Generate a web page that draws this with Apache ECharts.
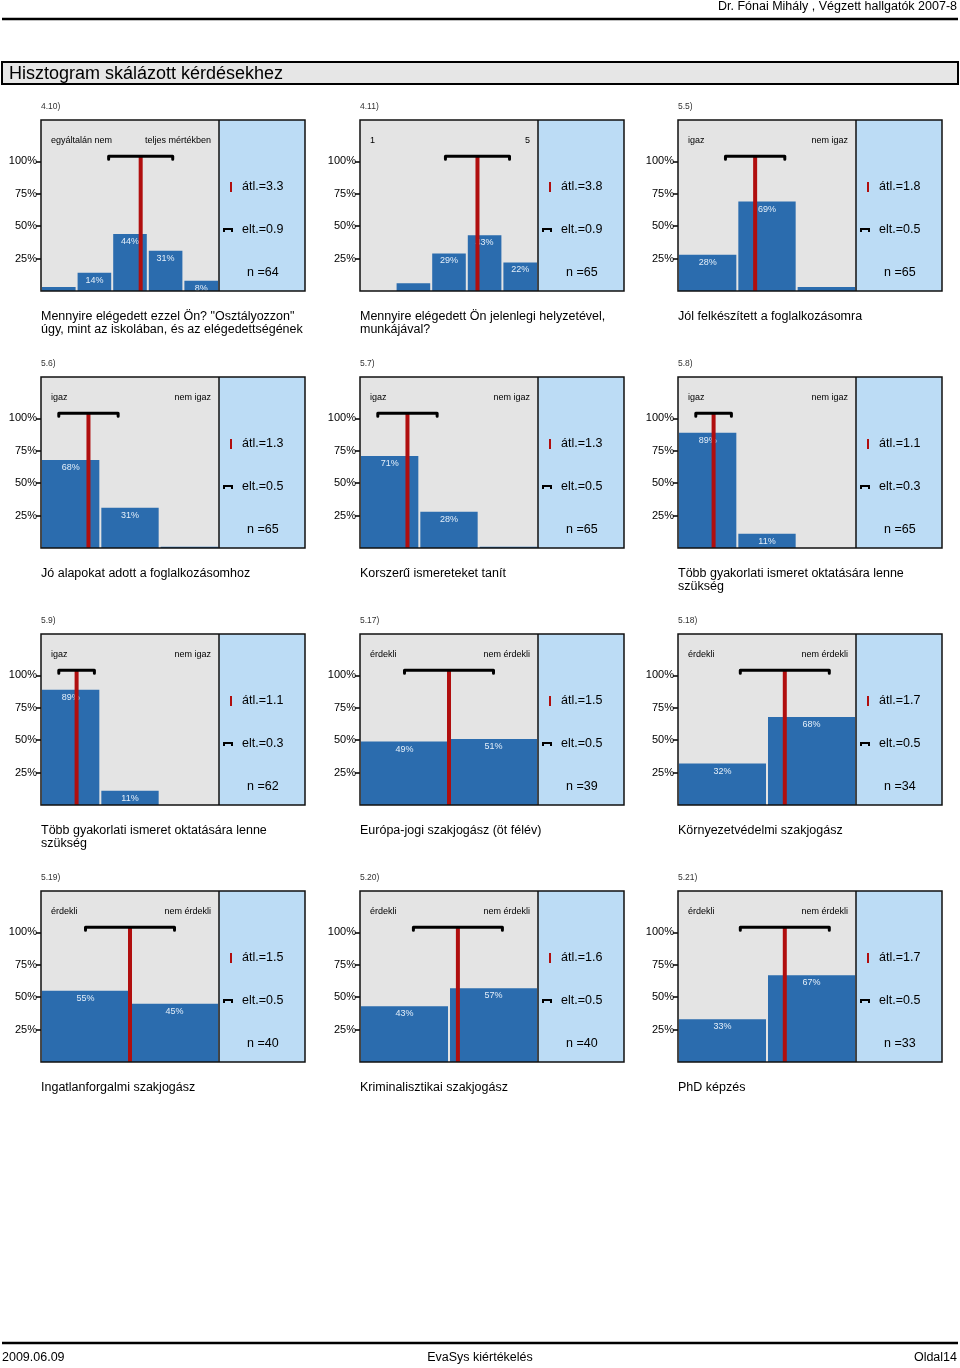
<!DOCTYPE html>
<html><head><meta charset="utf-8">
<script src="https://cdn.jsdelivr.net/npm/echarts@6/dist/echarts.min.js"></script>
<style>html,body{margin:0;padding:0;background:#fff}#c{width:960px;height:1368px}</style>
</head><body><div id="c"></div>
<script>
const headerText = 'Dr. Fónai Mihály , Végzett hallgatók 2007-8';
const sectionTitle = 'Hisztogram skálázott kérdésekhez';
const footerLeft = '2009.06.09';
const footerCenter = 'EvaSys kiértékelés';
const footerRight = 'Oldal14';
const questionIds = ['4.10)', '4.11)', '5.5)', '5.6)', '5.7)', '5.8)', '5.9)', '5.17)', '5.18)', '5.19)', '5.20)', '5.21)'];
const leftPoles = ['egyáltalán nem', '1', 'igaz', 'igaz', 'igaz', 'igaz', 'igaz', 'érdekli', 'érdekli', 'érdekli', 'érdekli', 'érdekli'];
const rightPoles = ['teljes mértékben', '5', 'nem igaz', 'nem igaz', 'nem igaz', 'nem igaz', 'nem igaz', 'nem érdekli', 'nem érdekli', 'nem érdekli', 'nem érdekli', 'nem érdekli'];
const questionTexts = [
  'Mennyire elégedett ezzel Ön? "Osztályozzon"\núgy, mint az iskolában, és az elégedettségének',
  'Mennyire elégedett Ön jelenlegi helyzetével,\nmunkájával?',
  'Jól felkészített a foglalkozásomra',
  'Jó alapokat adott a foglalkozásomhoz',
  'Korszerű ismereteket tanít',
  'Több gyakorlati ismeret oktatására lenne\nszükség',
  'Több gyakorlati ismeret oktatására lenne\nszükség',
  'Európa-jogi szakjogász (öt félév)',
  'Környezetvédelmi szakjogász',
  'Ingatlanforgalmi szakjogász',
  'Kriminalisztikai szakjogász',
  'PhD képzés'
];
const percents = [
  [3, 14, 44, 31, 8],
  [0, 6, 29, 43, 22],
  [28, 69, 3],
  [68, 31, 1],
  [71, 28, 1],
  [89, 11, 0],
  [89, 11, 0],
  [49, 51],
  [32, 68],
  [55, 45],
  [43, 57],
  [33, 67]
];
const means = [3.3, 3.8, 1.8, 1.3, 1.3, 1.1, 1.1, 1.5, 1.7, 1.5, 1.6, 1.7];
const sds = [0.9, 0.9, 0.5, 0.5, 0.5, 0.3, 0.3, 0.5, 0.5, 0.5, 0.5, 0.5];
const ns = [64, 65, 65, 65, 65, 65, 62, 39, 34, 40, 40, 33];
const yTicks = [25, 50, 75, 100];

const chart = echarts.init(document.getElementById('c'), null, {renderer: 'canvas'});
const FONT = '"Liberation Sans", Arial, sans-serif';
const colX = [41, 360, 678];
const rowTop = [120, 377, 634, 891];
const PW = 178, PH = 171, BW = 86;
const Y_MAX = 132;
const BRACKET_Y = 104;
const grids = [], xAxes = [], yAxes = [], series = [], graphics = [];

function txt(x, y, text, size, opts) {
  return Object.assign({type: 'text', x: x, y: y, silent: true, z: 50,
    style: Object.assign({text: text, fontSize: size, fontFamily: FONT, fill: '#000',
      textAlign: 'left', textVerticalAlign: 'middle'}, (opts && opts.style) || {})}, (opts && opts.el) || {});
}

questionIds.forEach((id, i) => {
  const gx = colX[i % 3], gy = rowTop[Math.floor(i / 3)];
  const k = percents[i].length;
  grids.push({left: gx, top: gy, width: PW, height: PH, show: true, backgroundColor: '#e4e4e4', borderWidth: 0});
  xAxes.push({gridIndex: i, type: 'category', data: percents[i].map((_, j) => String(j + 1)),
    axisLine: {show: false}, axisTick: {show: false}, axisLabel: {show: false}});
  xAxes.push({gridIndex: i, type: 'value', min: 0.5, max: k + 0.5, show: false});
  yAxes.push({gridIndex: i, type: 'value', min: 0, max: Y_MAX, splitLine: {show: false},
    axisLine: {show: false},
    axisTick: {show: true, length: 5, customValues: yTicks, lineStyle: {color: '#000', width: 1.5}},
    axisLabel: {customValues: yTicks, formatter: v => v + '%', fontSize: 11, color: '#000', margin: 4, fontFamily: FONT}});
  series.push({type: 'bar', xAxisIndex: 2 * i, yAxisIndex: i, data: percents[i], barCategoryGap: 2,
    itemStyle: {color: '#2b6cae'}, silent: true, z: 2, animation: false,
    label: {show: true, position: 'insideTop', distance: 3, fontSize: 9, color: '#e3eef9', fontFamily: FONT,
      formatter: p => p.value >= 7 ? p.value + '%' : ''}});
  series.push({type: 'line', xAxisIndex: 2 * i + 1, yAxisIndex: i, data: [[means[i], 0], [means[i], BRACKET_Y]],
    symbol: 'none', lineStyle: {color: '#b00e0e', width: 4}, z: 3, silent: true, animation: false});
  series.push({type: 'line', xAxisIndex: 2 * i + 1, yAxisIndex: i,
    data: [[means[i] - sds[i], BRACKET_Y - 2.3], [means[i] - sds[i], BRACKET_Y], [means[i] + sds[i], BRACKET_Y], [means[i] + sds[i], BRACKET_Y - 2.3]],
    symbol: 'none', lineStyle: {color: '#000', width: 3, cap: 'round', join: 'round'}, z: 4, silent: true, animation: false});

  // blue stats panel
  graphics.push({type: 'rect', shape: {x: gx + PW, y: gy, width: BW, height: PH}, style: {fill: '#bcdcf5'}, z: 1, silent: true});
  // borders
  graphics.push({type: 'rect', shape: {x: gx, y: gy, width: PW + BW, height: PH}, style: {fill: null, stroke: '#111', lineWidth: 1.5}, z: 60, silent: true});
  graphics.push({type: 'line', shape: {x1: gx + PW, y1: gy, x2: gx + PW, y2: gy + PH}, style: {stroke: '#111', lineWidth: 1.5}, z: 60, silent: true});
  // y tick crossing into the box
  // stats
  graphics.push({type: 'line', shape: {x1: gx + PW + 12, y1: gy + 62, x2: gx + PW + 12, y2: gy + 72}, style: {stroke: '#b00e0e', lineWidth: 2}, z: 50, silent: true});
  graphics.push(txt(gx + PW + 23, gy + 67, 'átl.=' + means[i].toFixed(1), 12.5));
  graphics.push({type: 'polyline', shape: {points: [[gx + PW + 5, gy + 112], [gx + PW + 5, gy + 109], [gx + PW + 13, gy + 109], [gx + PW + 13, gy + 112]]}, style: {stroke: '#000', lineWidth: 2, fill: null}, z: 50, silent: true});
  graphics.push(txt(gx + PW + 23, gy + 110, 'elt.=' + sds[i].toFixed(1), 12.5));
  graphics.push(txt(gx + PW + 28, gy + 153, 'n =' + ns[i], 12.5));
  // poles
  graphics.push(txt(gx + 10, gy + 21, leftPoles[i], 9));
  graphics.push(txt(gx + 170, gy + 21, rightPoles[i], 9, {style: {textAlign: 'right'}}));
  // id and question
  graphics.push(txt(gx, gy - 13, id, 8.5, {style: {fill: '#333'}}));
  graphics.push(txt(gx, gy + 190, questionTexts[i], 12.5, {style: {textVerticalAlign: 'top', lineHeight: 13}}));
});

// header / footer
graphics.push(txt(957, 7, headerText, 12.5, {style: {textAlign: 'right'}}));
graphics.push({type: 'line', shape: {x1: 2, y1: 19, x2: 958, y2: 19}, style: {stroke: '#000', lineWidth: 2.5}, silent: true});
graphics.push({type: 'rect', shape: {x: 2, y: 62, width: 956, height: 22}, style: {fill: '#e6e6e6', stroke: '#000', lineWidth: 2}, silent: true});
graphics.push(txt(9, 74, sectionTitle, 18));
graphics.push({type: 'line', shape: {x1: 2, y1: 1343, x2: 958, y2: 1343}, style: {stroke: '#000', lineWidth: 2.5}, silent: true});
graphics.push(txt(2, 1358, footerLeft, 12.5));
graphics.push(txt(480, 1358, footerCenter, 12.5, {style: {textAlign: 'center'}}));
graphics.push(txt(957, 1358, footerRight, 12.5, {style: {textAlign: 'right'}}));

chart.setOption({
  animation: false,
  grid: grids, xAxis: xAxes, yAxis: yAxes, series: series,
  graphic: {elements: graphics}
});
</script></body></html>
